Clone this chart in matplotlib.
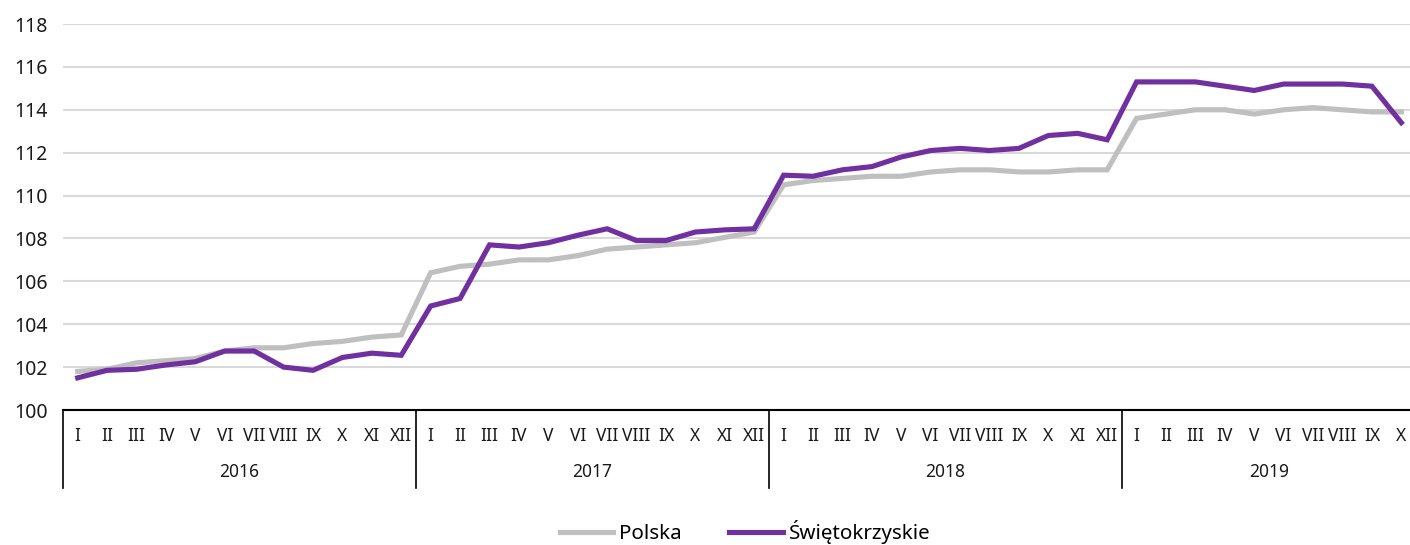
import matplotlib
matplotlib.use('Agg')
import matplotlib.pyplot as plt
import matplotlib.transforms as mtransforms

plt.rcParams['font.family'] = ['Noto Sans', 'DejaVu Sans']

years = ['2016', '2017', '2018', '2019']
months_per_year = [12, 12, 12, 10]
roman = ['I', 'II', 'III', 'IV', 'V', 'VI', 'VII', 'VIII', 'IX', 'X', 'XI', 'XII']

polska = [101.8, 101.9, 102.2, 102.3, 102.4, 102.75, 102.9, 102.9, 103.1, 103.2, 103.4, 103.5,
          106.4, 106.7, 106.8, 107.0, 107.0, 107.2, 107.5, 107.6, 107.7, 107.8, 108.05, 108.3,
          110.5, 110.7, 110.8, 110.9, 110.9, 111.1, 111.2, 111.2, 111.1, 111.1, 111.2, 111.2,
          113.6, 113.8, 114.0, 114.0, 113.8, 114.0, 114.1, 114.0, 113.9, 113.9]
swietokrzyskie = [101.5, 101.85, 101.9, 102.1, 102.25, 102.75, 102.75, 102.0, 101.85, 102.45, 102.65, 102.55,
                  104.85, 105.2, 107.7, 107.6, 107.8, 108.15, 108.45, 107.9, 107.9, 108.3, 108.4, 108.45,
                  110.95, 110.9, 111.2, 111.35, 111.8, 112.1, 112.2, 112.1, 112.2, 112.8, 112.9, 112.6,
                  115.3, 115.3, 115.3, 115.1, 114.9, 115.2, 115.2, 115.2, 115.1, 113.4]

month_labels = []
for n in months_per_year:
    month_labels += roman[:n]
x = list(range(len(month_labels)))

W, H = 1410, 545
fig = plt.figure(figsize=(W / 100, H / 100), dpi=100)
ax = fig.add_axes([63 / W, (H - 410) / H, (1416 - 63) / W, (410 - 24) / H])

ax.plot(x, polska, color='#BFBFBF', lw=3.7, label='Polska', solid_joinstyle='miter')
ax.plot(x, swietokrzyskie, color='#7030A0', lw=3.7, label='Świętokrzyskie', solid_joinstyle='miter')

ax.set_ylim(100, 118)
ax.set_yticks(range(100, 119, 2))
ax.set_xlim(-0.5, len(x) - 0.5)
ax.grid(axis='y', color='#D9D9D9', lw=1.5)
ax.set_axisbelow(True)
for s in ['left', 'right', 'top']:
    ax.spines[s].set_visible(False)
ax.spines['bottom'].set_color('black')
ax.spines['bottom'].set_linewidth(1.5)

ax.set_xticks(x)
ax.set_xticklabels(month_labels, fontsize=12.5, color='#1a1a1a')
ax.tick_params(axis='x', length=0, pad=12)
ax.tick_params(axis='y', length=0, labelsize=14, labelcolor='#1a1a1a', pad=11)

# year groups
trans = mtransforms.blended_transform_factory(ax.transData, ax.transAxes)
axis_h = 410 - 24
start = 0
for yr, n in zip(years, months_per_year):
    ax.plot([start - 0.5, start - 0.5], [0, -78 / axis_h], color='black', lw=1.2,
            transform=trans, clip_on=False)
    ax.text(start + (n - 1) / 2, -62 / axis_h, yr, transform=trans, ha='center', va='center',
            fontsize=12.5, color='#1a1a1a')
    start += n

fig.legend(loc='center', bbox_to_anchor=(745 / W, (H - 532) / H), ncol=2, frameon=False,
           fontsize=14.8, handlelength=2.6, handletextpad=0.3, columnspacing=2.3)

fig.savefig('out.png', dpi=100)
